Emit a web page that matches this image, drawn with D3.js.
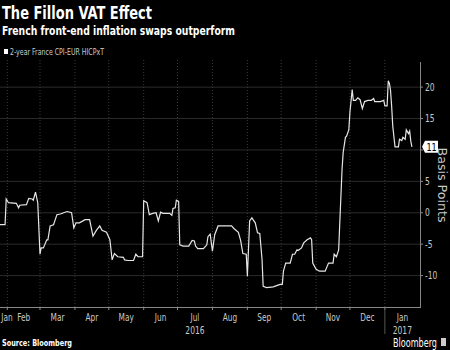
<!DOCTYPE html>
<html lang="en">
<head>
    <meta charset="UTF-8">
    <title>The Fillon VAT Effect</title>
    <script src="https://d3js.org/d3.v7.min.js"></script>
    <style>
        body { margin: 0; background: #000; }
        svg { display: block; font-family: "DejaVu Sans Condensed", "Liberation Sans Narrow", "DejaVu Sans", sans-serif; font-stretch: condensed; }
    </style>
</head>
<body>
    <div id="chart"></div>
    <script>
        const dates = [
            "2016-01-25", "2016-01-30", "2016-01-31", "2016-02-02", "2016-02-09", "2016-02-11", "2016-02-12",
            "2016-02-18", "2016-02-20", "2016-02-23", "2016-02-24", "2016-02-26", "2016-02-28", "2016-03-01",
            "2016-03-02", "2016-03-04", "2016-03-07", "2016-03-08", "2016-03-10", "2016-03-13", "2016-03-16",
            "2016-03-19", "2016-03-22", "2016-03-25", "2016-03-29", "2016-03-31", "2016-04-02", "2016-04-05",
            "2016-04-10", "2016-04-14", "2016-04-17", "2016-04-20", "2016-04-23", "2016-04-25", "2016-04-29",
            "2016-05-02", "2016-05-04", "2016-05-06", "2016-05-09", "2016-05-14", "2016-05-15", "2016-05-18",
            "2016-05-23", "2016-05-25", "2016-05-27", "2016-05-31", "2016-06-01", "2016-06-04", "2016-06-06",
            "2016-06-09", "2016-06-12", "2016-06-14", "2016-06-16", "2016-06-18", "2016-06-24", "2016-06-26",
            "2016-06-27", "2016-06-29", "2016-06-30", "2016-07-02", "2016-07-03", "2016-07-06", "2016-07-11",
            "2016-07-14", "2016-07-16", "2016-07-17", "2016-07-19", "2016-07-24", "2016-07-27", "2016-07-28",
            "2016-07-30", "2016-08-01", "2016-08-03", "2016-08-06", "2016-08-11", "2016-08-18", "2016-08-20",
            "2016-08-24", "2016-08-26", "2016-08-28", "2016-08-31", "2016-09-01", "2016-09-03", "2016-09-05",
            "2016-09-06", "2016-09-08", "2016-09-10", "2016-09-12", "2016-09-14", "2016-09-15", "2016-09-18",
            "2016-09-24", "2016-09-30", "2016-10-02", "2016-10-03", "2016-10-05", "2016-10-09", "2016-10-11",
            "2016-10-13", "2016-10-15", "2016-10-16", "2016-10-19", "2016-10-21", "2016-10-24", "2016-10-27",
            "2016-10-28", "2016-10-29", "2016-11-01", "2016-11-04", "2016-11-09", "2016-11-12", "2016-11-16",
            "2016-11-17", "2016-11-19", "2016-11-21", "2016-11-22", "2016-11-24", "2016-11-25", "2016-11-27",
            "2016-11-28", "2016-11-30", "2016-12-01", "2016-12-03", "2016-12-04", "2016-12-06", "2016-12-08",
            "2016-12-10", "2016-12-12", "2016-12-14", "2016-12-17", "2016-12-20", "2016-12-22", "2016-12-23",
            "2016-12-28", "2016-12-31", "2017-01-01", "2017-01-03", "2017-01-04", "2017-01-05", "2017-01-06",
            "2017-01-07", "2017-01-08", "2017-01-10", "2017-01-13", "2017-01-14", "2017-01-16", "2017-01-17",
            "2017-01-19", "2017-01-20", "2017-01-22", "2017-01-23", "2017-01-24", "2017-01-25"
        ];
        const values = [
            -1.9, -1.9, 2.2, 1.6, 1.5, 0.8, 1.2,
            1.3, 2.3, 2.2, 2.0, 3.3, 1.6, -6.6,
            -5.6, -5.6, -4.3, -4.3, -2.1, -1.9, -0.3,
            -0.2, 0.0, 0.2, 0.0, -2.4, -1.6, -1.6,
            -1.1, -1.1, -3.7, -2.8, -2.1, -2.8, -3.1,
            -4.3, -7.5, -6.5, -7.0, -7.1, -7.5, -7.6,
            -7.6, -6.6, -7.0, -7.0, 1.9, 1.6, -0.3,
            -0.1, 0.0, -1.3, 0.1, -0.1, -0.1, -0.4,
            0.7, 0.8, 2.0, 1.8, -5.1, -5.3, -5.3,
            -4.4, -4.5, -5.3, -5.7, -5.7, -5.1, -3.8,
            -3.4, -6.1, -3.5, -2.1, -2.1, -2.1, -2.5,
            -3.1, -4.4, -6.5, -6.6, -10.1, -1.3, -0.8,
            -1.1, -1.6, -3.2, -3.3, -7.4, -11.7, -11.9,
            -11.8, -11.4, -11.4, -9.3, -8.0, -8.0, -6.6,
            -6.6, -5.9, -6.0, -5.6, -4.8, -4.3, -4.0,
            -4.3, -8.0, -9.0, -9.3, -9.3, -8.0, -8.0,
            -6.6, -7.0, -5.9, -1.6, 6.9, 9.6, 12.0,
            12.2, 13.2, 16.0, 19.6, 17.9, 17.9, 18.3,
            18.0, 16.6, 17.7, 17.9, 17.9, 18.2, 17.7,
            17.7, 17.9, 17.0, 17.0, 21.0, 20.6, 19.5,
            17.0, 13.8, 10.5, 10.5, 11.7, 11.5, 12.0,
            11.7, 13.2, 12.6, 13.0, 11.4, 10.5
        ];
        const yTicks = [-10, -5, 0, 5, 10, 15, 20];
        const monthStarts = ["2016-01-01", "2016-02-01", "2016-03-01", "2016-04-01", "2016-05-01", "2016-06-01",
            "2016-07-01", "2016-08-01", "2016-09-01", "2016-10-01", "2016-11-01", "2016-12-01", "2017-01-01"];
        const monthLabels = ["Jan", "Feb", "Mar", "Apr", "May", "Jun", "Jul", "Aug", "Sep", "Oct", "Nov", "Dec", "Jan"];
        const years = [{ label: "2016", month: "2016-07-01" }, { label: "2017", month: "2017-01-01" }];
        const seriesName = "2-year France CPI-EUR HICPxT";

        const width = 450, height = 350;
        const plotLeft = 0, plotRight = 420, plotTop = 62, plotBottom = 307;
        const parse = d3.timeParse("%Y-%m-%d");
        const data = dates.map((d, i) => ({ date: parse(d), value: values[i] }));

        // squeeze text horizontally to mimic the narrow terminal font
        function narrow(sel, k) {
            sel.each(function () {
                const w = this.getComputedTextLength();
                d3.select(this).attr("textLength", w * k).attr("lengthAdjust", "spacingAndGlyphs");
            });
        }

        const svg = d3.select("#chart").append("svg")
            .attr("width", width).attr("height", height)
            .style("background", "#000");

        const x = d3.scaleTime()
            .domain([new Date(2016, 0, 25, 12), new Date(2017, 1, 1, 4)])
            .range([plotLeft, plotRight]);
        const y = d3.scaleLinear().domain([-15, 24]).range([plotBottom, plotTop]);

        // titles
        svg.append("text").attr("x", 2).attr("y", 19)
            .attr("fill", "#fff").attr("font-size", 18).attr("font-weight", "bold")
            .attr("textLength", 150).attr("lengthAdjust", "spacingAndGlyphs")
            .text("The Fillon VAT Effect");
        svg.append("text").attr("x", 2).attr("y", 35)
            .attr("fill", "#fff").attr("font-size", 13).attr("font-weight", "bold")
            .attr("textLength", 233).attr("lengthAdjust", "spacingAndGlyphs")
            .text("French front-end inflation swaps outperform");

        // legend
        svg.append("rect").attr("x", 4).attr("y", 49).attr("width", 4).attr("height", 5).attr("fill", "#fff");
        svg.append("text").attr("x", 10).attr("y", 55)
            .attr("fill", "#ccc").attr("font-size", 8.5)
            .attr("textLength", 94).attr("lengthAdjust", "spacingAndGlyphs")
            .text(seriesName);

        // horizontal grid
        svg.append("g").selectAll("line").data(yTicks).join("line")
            .attr("x1", plotLeft).attr("x2", plotRight)
            .attr("y1", d => y(d)).attr("y2", d => y(d))
            .attr("stroke", "#2b2b2b").attr("stroke-width", 1);

        // vertical month grid (dotted)
        const months = monthStarts.map(parse);
        const inside = months.filter(m => x(m) > plotLeft);
        svg.append("g").selectAll("line").data(inside).join("line")
            .attr("x1", d => x(d)).attr("x2", d => x(d))
            .attr("y1", plotTop - 2).attr("y2", plotBottom)
            .attr("stroke", "#3a3a3a").attr("stroke-dasharray", "1,2");

        // x axis line and ticks
        svg.append("line").attr("x1", plotLeft).attr("x2", plotRight)
            .attr("y1", plotBottom + 0.5).attr("y2", plotBottom + 0.5)
            .attr("stroke", "#888");
        svg.append("g").selectAll("line").data(inside).join("line")
            .attr("x1", d => x(d)).attr("x2", d => x(d))
            .attr("y1", plotBottom).attr("y2", plotBottom + 3)
            .attr("stroke", "#888");

        // month labels, centred in their month span
        svg.append("g").selectAll("text").data(months).join("text")
            .attr("x", (d, i) => {
                const next = i + 1 < months.length ? x(months[i + 1]) : plotRight;
                const mid = (Math.max(x(d), plotLeft) + Math.min(next, plotRight)) / 2;
                return Math.max(mid, 7);
            })
            .attr("y", plotBottom + 14)
            .attr("text-anchor", "middle")
            .attr("fill", "#c8c8c8").attr("font-size", 10.5)
            .text((d, i) => monthLabels[i])
            .call(narrow, 0.78);

        // year labels
        svg.append("g").selectAll("text").data(years).join("text")
            .attr("x", d => {
                const m = parse(d.month);
                return (x(m) + Math.min(x(d3.timeMonth.offset(m, 1)), plotRight)) / 2;
            })
            .attr("y", plotBottom + 27)
            .attr("text-anchor", "middle")
            .attr("fill", "#c8c8c8").attr("font-size", 10.5)
            .text(d => d.label)
            .call(narrow, 0.8);
        svg.append("line")
            .attr("x1", x(parse("2017-01-01"))).attr("x2", x(parse("2017-01-01")))
            .attr("y1", plotBottom + 3).attr("y2", plotBottom + 27)
            .attr("stroke", "#555");

        // series line
        const line = d3.line().x(d => x(d.date)).y(d => y(d.value));
        svg.append("path").datum(data)
            .attr("d", line)
            .attr("fill", "none")
            .attr("stroke", "#e6e6e6")
            .attr("stroke-width", 1.2);

        // last value tag position, used to hide the tick label it covers
        const last = data[data.length - 1];
        const ly = y(last.value);

        // right y axis
        svg.append("line").attr("x1", plotRight + 0.5).attr("x2", plotRight + 0.5)
            .attr("y1", plotTop).attr("y2", plotBottom + 1)
            .attr("stroke", "#888");
        const yt = svg.append("g").selectAll("g").data(yTicks).join("g")
            .attr("transform", d => `translate(${plotRight},${y(d)})`);
        yt.append("line").attr("x1", 0).attr("x2", 3).attr("stroke", "#888");
        yt.filter(d => Math.abs(y(d) - ly) > 9)
            .append("text").attr("x", 5).attr("dy", "0.35em")
            .attr("fill", "#c8c8c8").attr("font-size", 10.5)
            .text(d => d)
            .call(narrow, 0.8);

        svg.append("text")
            .attr("transform", "translate(438,185) rotate(90)")
            .attr("text-anchor", "middle")
            .attr("fill", "#c8c8c8").attr("font-size", 13)
            .attr("textLength", 75).attr("lengthAdjust", "spacingAndGlyphs")
            .text("Basis Points");

        // last value tag
        const tag = svg.append("g").attr("transform", `translate(${plotRight + 2},${ly})`);
        tag.append("path").attr("d", "M0,0 L3,-6 L16,-6 L16,6 L3,6 Z").attr("fill", "#fff");
        tag.append("text").attr("x", 9.5).attr("dy", "0.36em")
            .attr("text-anchor", "middle")
            .attr("fill", "#000").attr("font-size", 10.5)
            .text(Math.round(last.value))
            .call(narrow, 0.85);

        // footer
        svg.append("text").attr("x", 2).attr("y", 346)
            .attr("fill", "#fff").attr("font-size", 9).attr("font-weight", "bold")
            .attr("textLength", 70).attr("lengthAdjust", "spacingAndGlyphs")
            .text("Source: Bloomberg");
        svg.append("text").attr("x", 393).attr("y", 347)
            .attr("fill", "#fff").attr("font-size", 11.5)
            .attr("textLength", 44).attr("lengthAdjust", "spacingAndGlyphs")
            .text("Bloomberg");
        svg.append("rect").attr("x", 441).attr("y", 338).attr("width", 5).attr("height", 8).attr("fill", "#ccc");
    </script>
</body>
</html>
